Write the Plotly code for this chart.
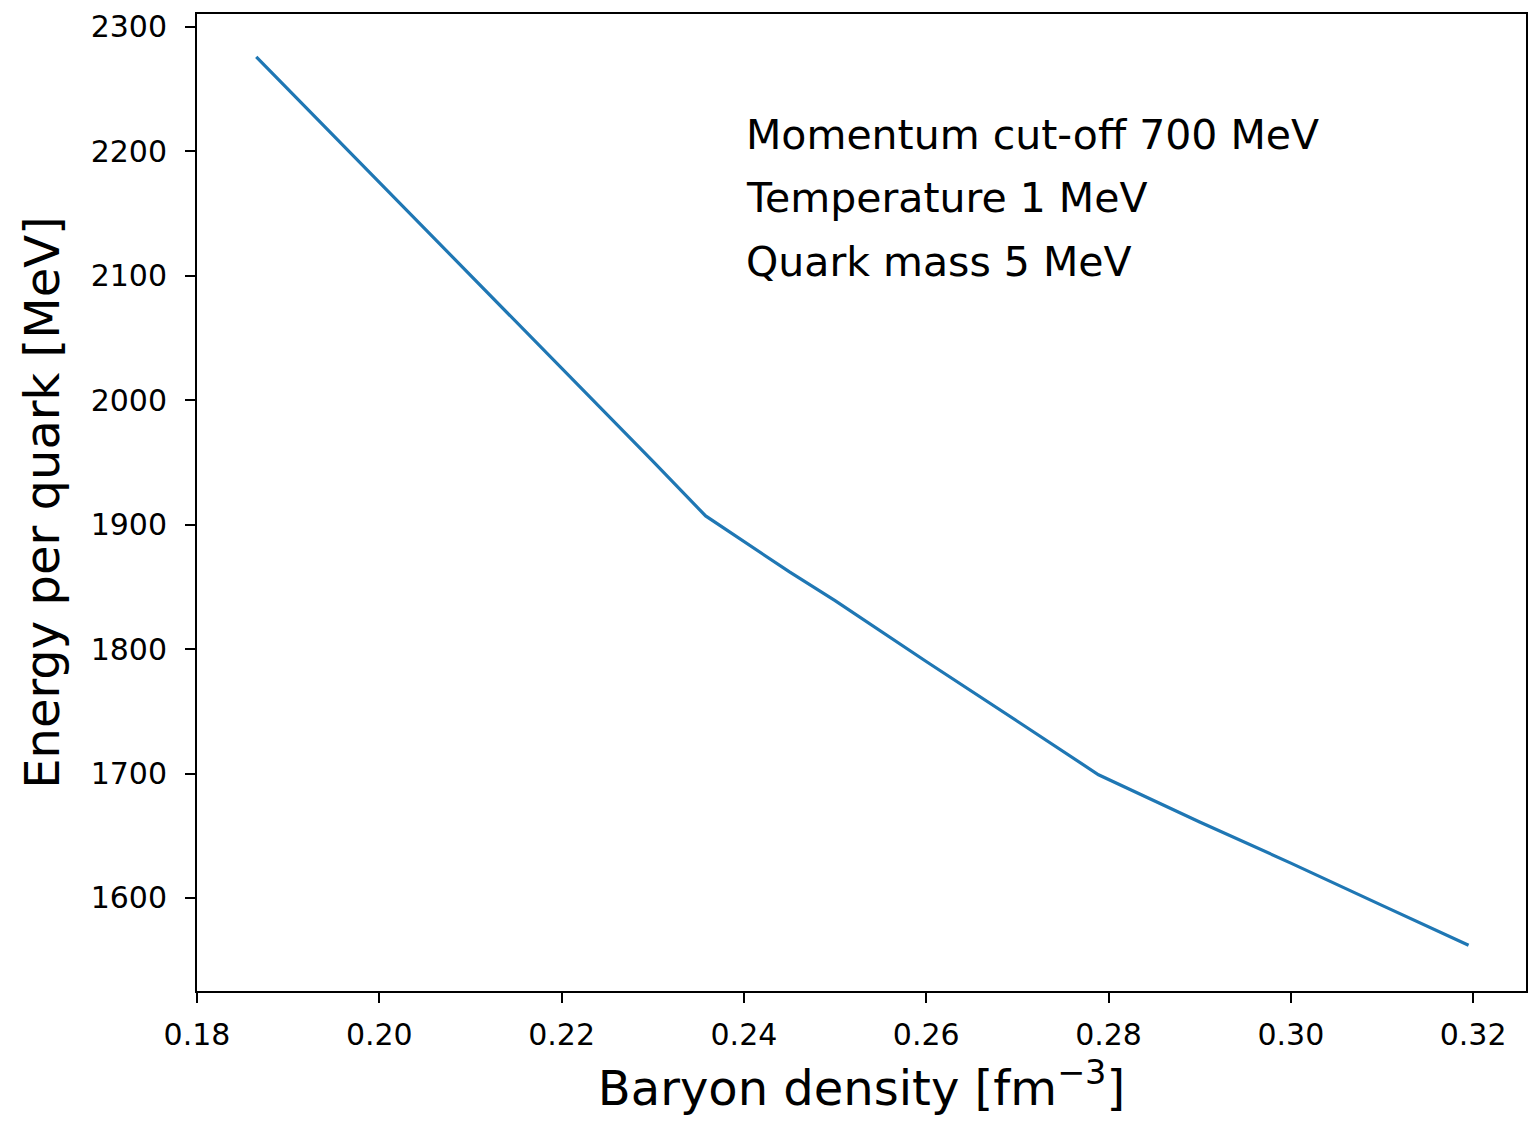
import plotly.graph_objects as go

# Energy per quark as a function of baryon density
baryon_density = [0.1865, 0.20, 0.21, 0.22, 0.23, 0.2358, 0.245, 0.25, 0.26,
                  0.27, 0.2789, 0.29, 0.30, 0.31, 0.3195]
energy_per_quark = [2276, 2175, 2101, 2026, 1951, 1907, 1862, 1839, 1790,
                    1742, 1699, 1661, 1628, 1594, 1562]

x_ticks = [0.18, 0.20, 0.22, 0.24, 0.26, 0.28, 0.30, 0.32]
x_tick_text = ["0.18", "0.20", "0.22", "0.24", "0.26", "0.28", "0.30", "0.32"]
y_ticks = [1600, 1700, 1800, 1900, 2000, 2100, 2200, 2300]

info_lines = ["Momentum cut-off 700 MeV", "Temperature 1 MeV", "Quark mass 5 MeV"]
info_y = [0.876, 0.812, 0.746]

FONT = "DejaVu Sans"

fig = go.Figure()
fig.add_trace(go.Scatter(
    x=baryon_density, y=energy_per_quark, mode="lines",
    line=dict(color="#1f77b4", width=3.2), showlegend=False,
))

for text, yp in zip(info_lines, info_y):
    fig.add_annotation(
        x=0.4117, y=yp, xref="paper", yref="paper", text=text,
        showarrow=False, xanchor="left", yanchor="middle",
        font=dict(family=FONT, size=41, color="black"),
    )

axis_common = dict(
    showline=True, linecolor="black", linewidth=2, mirror=True,
    ticks="outside", ticklen=10, tickwidth=1.5, tickcolor="black",
    showgrid=False, zeroline=False,
)

fig.update_layout(
    width=1530, height=1121,
    margin=dict(l=197, r=2, t=14, b=130),
    paper_bgcolor="white", plot_bgcolor="white",
    xaxis=dict(
        range=[0.18, 0.3258], tickvals=x_ticks, ticktext=x_tick_text,
        ticklabelstandoff=6,
        tickfont=dict(family=FONT, size=30, color="black"),
        title=dict(text="Baryon density [fm<sup>−3</sup>]", standoff=20,
                   font=dict(family=FONT, size=48, color="black")),
        **axis_common,
    ),
    yaxis=dict(
        range=[1525.2, 2310.4], tickvals=y_ticks,
        ticklabelstandoff=12,
        tickfont=dict(family=FONT, size=30, color="black"),
        title=dict(text="Energy per quark [MeV]", standoff=16,
                   font=dict(family=FONT, size=48, color="black")),
        **axis_common,
    ),
)

fig.write_html("out.html")
